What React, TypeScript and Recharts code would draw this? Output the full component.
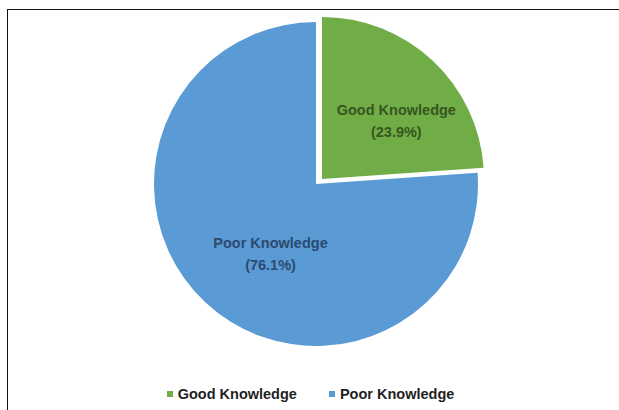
import React from "react";
import { PieChart, Pie, Cell, Legend } from "recharts";

const categories = ["Good Knowledge", "Poor Knowledge"];
const values = [23.9, 76.1];
const percentLabels = ["(23.9%)", "(76.1%)"];
const colors = ["#70AD47", "#5B9BD5"];
const labelColors = ["#37561F", "#2B4A6F"];

const data = categories.map((name, i) => ({ name, value: values[i] }));

const RAD = Math.PI / 180;
const FONT = "'Liberation Sans', Arial, sans-serif";
// label placement tweaks (style config)
const labelRatio = [0.6, 0.52];
const labelNudge = [
  [8, 18],
  [12, 13],
];

const makeLabel = (only: number) => (props: any) => {
  const { cx, cy, midAngle, outerRadius, index } = props;
  if (index !== only) return null;
  const r = outerRadius * labelRatio[index];
  const x = cx + r * Math.cos(-midAngle * RAD) + labelNudge[index][0];
  const y = cy + r * Math.sin(-midAngle * RAD) + labelNudge[index][1];
  return (
    <text
      x={x}
      y={y}
      textAnchor="middle"
      fill={labelColors[index]}
      fontFamily={FONT}
      fontWeight="bold"
      fontSize={14.5}
    >
      <tspan x={x} dy={-11}>{categories[index]}</tspan>
      <tspan x={x} dy={22}>{percentLabels[index]}</tspan>
    </text>
  );
};

const LegendContent = () => (
  <div
    style={{
      display: "flex",
      justifyContent: "center",
      alignItems: "center",
      fontFamily: FONT,
      fontWeight: "bold",
      fontSize: 14.5,
      color: "#1f1f1f",
      paddingLeft: 2,
    }}
  >
    {categories.map((c, i) => (
      <div key={c} style={{ display: "flex", alignItems: "center", marginRight: i === 0 ? 32 : 0 }}>
        <span
          style={{
            display: "inline-block",
            width: 6,
            height: 6,
            background: colors[i],
            marginRight: 5,
          }}
        />
        <span>{c}</span>
      </div>
    ))}
  </div>
);

export default function App() {
  return (
    <div style={{ position: "absolute", left: 0, top: 0, width: 619, height: 410, background: "#fff", overflow: "hidden" }}>
      <div
        style={{
          position: "absolute",
          left: 7,
          top: 9,
          width: 700,
          height: 500,
          borderTop: "1.5px solid #111",
          borderLeft: "1.5px solid #111",
        }}
      />
      <div style={{ position: "absolute", left: 0, top: 0 }}>
        <PieChart width={619} height={410} margin={{ top: 0, right: 0, bottom: 0, left: 0 }}>
          <Pie
            data={data}
            dataKey="value"
            nameKey="name"
            cx={316}
            cy={184}
            outerRadius={162}
            startAngle={90}
            endAngle={-270}
            stroke="none"
            isAnimationActive={false}
            labelLine={false}
            label={makeLabel(1)}
          >
            {data.map((d, i) => (
              <Cell key={d.name} fill={i === 1 ? colors[1] : "none"} />
            ))}
          </Pie>
          <Pie
            data={data}
            dataKey="value"
            nameKey="name"
            cx={322}
            cy={179}
            outerRadius={162}
            startAngle={90}
            endAngle={-270}
            stroke="none"
            isAnimationActive={false}
            labelLine={false}
            label={makeLabel(0)}
          >
            {data.map((d, i) => (
              <Cell key={d.name} fill={i === 0 ? colors[0] : "none"} />
            ))}
          </Pie>
          <Legend
            content={LegendContent}
            wrapperStyle={{ position: "absolute", top: 386, left: 0, width: 619 }}
          />
        </PieChart>
      </div>
    </div>
  );
}
